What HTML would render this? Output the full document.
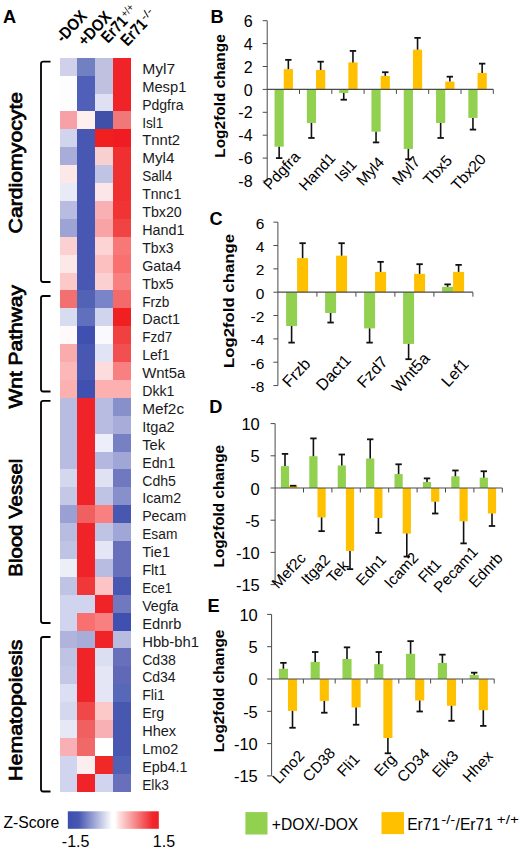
<!DOCTYPE html>
<html><head><meta charset="utf-8"><title>Figure</title>
<style>
html,body{margin:0;padding:0;background:#fff;}
body{width:520px;height:853px;overflow:hidden;font-family:"Liberation Sans", sans-serif;}
svg{display:block;}
</style></head>
<body>
<svg width="520" height="853" viewBox="0 0 520 853">
<rect x="0" y="0" width="520" height="853" fill="#fff"/>
<g shape-rendering="crispEdges">
<rect x="59.60" y="57.70" width="17.90" height="18.20" fill="#d0d0ea"/>
<rect x="77.20" y="57.70" width="18.40" height="18.20" fill="#7080c0"/>
<rect x="95.30" y="57.70" width="18.30" height="18.20" fill="#c0c0e0"/>
<rect x="113.30" y="57.70" width="18.00" height="18.20" fill="#f02328"/>
<rect x="59.60" y="75.60" width="17.90" height="18.20" fill="#fdfdfd"/>
<rect x="77.20" y="75.60" width="18.40" height="18.20" fill="#5060b8"/>
<rect x="95.30" y="75.60" width="18.30" height="18.20" fill="#c0c0e0"/>
<rect x="113.30" y="75.60" width="18.00" height="18.20" fill="#f02328"/>
<rect x="59.60" y="93.50" width="17.90" height="18.20" fill="#fdfdfd"/>
<rect x="77.20" y="93.50" width="18.40" height="18.20" fill="#5060b8"/>
<rect x="95.30" y="93.50" width="18.30" height="18.20" fill="#e0e0f4"/>
<rect x="113.30" y="93.50" width="18.00" height="18.20" fill="#f02328"/>
<rect x="59.60" y="111.40" width="17.90" height="18.20" fill="#f8a0a8"/>
<rect x="77.20" y="111.40" width="18.40" height="18.20" fill="#fff0f0"/>
<rect x="95.30" y="111.40" width="18.30" height="18.20" fill="#4050a8"/>
<rect x="113.30" y="111.40" width="18.00" height="18.20" fill="#f07878"/>
<rect x="59.60" y="129.30" width="17.90" height="18.20" fill="#d0d4ec"/>
<rect x="77.20" y="129.30" width="18.40" height="18.20" fill="#4858b2"/>
<rect x="95.30" y="129.30" width="18.30" height="18.20" fill="#f02020"/>
<rect x="113.30" y="129.30" width="18.00" height="18.20" fill="#f01c24"/>
<rect x="59.60" y="147.20" width="17.90" height="18.20" fill="#a8acd8"/>
<rect x="77.20" y="147.20" width="18.40" height="18.20" fill="#4858b2"/>
<rect x="95.30" y="147.20" width="18.30" height="18.20" fill="#f8d0d0"/>
<rect x="113.30" y="147.20" width="18.00" height="18.20" fill="#f03030"/>
<rect x="59.60" y="165.10" width="17.90" height="18.20" fill="#fde8e8"/>
<rect x="77.20" y="165.10" width="18.40" height="18.20" fill="#4858b2"/>
<rect x="95.30" y="165.10" width="18.30" height="18.20" fill="#c0c4e4"/>
<rect x="113.30" y="165.10" width="18.00" height="18.20" fill="#f03030"/>
<rect x="59.60" y="183.00" width="17.90" height="18.20" fill="#e8eaf6"/>
<rect x="77.20" y="183.00" width="18.40" height="18.20" fill="#4858b2"/>
<rect x="95.30" y="183.00" width="18.30" height="18.20" fill="#fbe6ea"/>
<rect x="113.30" y="183.00" width="18.00" height="18.20" fill="#f03030"/>
<rect x="59.60" y="200.90" width="17.90" height="18.20" fill="#b8bce0"/>
<rect x="77.20" y="200.90" width="18.40" height="18.20" fill="#4858b2"/>
<rect x="95.30" y="200.90" width="18.30" height="18.20" fill="#f8b0b4"/>
<rect x="113.30" y="200.90" width="18.00" height="18.20" fill="#f03434"/>
<rect x="59.60" y="218.80" width="17.90" height="18.20" fill="#9ca4d4"/>
<rect x="77.20" y="218.80" width="18.40" height="18.20" fill="#4858b2"/>
<rect x="95.30" y="218.80" width="18.30" height="18.20" fill="#f8a4a6"/>
<rect x="113.30" y="218.80" width="18.00" height="18.20" fill="#f04444"/>
<rect x="59.60" y="236.70" width="17.90" height="18.20" fill="#fcd0d0"/>
<rect x="77.20" y="236.70" width="18.40" height="18.20" fill="#4858b2"/>
<rect x="95.30" y="236.70" width="18.30" height="18.20" fill="#fcd4d4"/>
<rect x="113.30" y="236.70" width="18.00" height="18.20" fill="#f87878"/>
<rect x="59.60" y="254.60" width="17.90" height="18.20" fill="#fde8e8"/>
<rect x="77.20" y="254.60" width="18.40" height="18.20" fill="#4858b2"/>
<rect x="95.30" y="254.60" width="18.30" height="18.20" fill="#fcc0c0"/>
<rect x="113.30" y="254.60" width="18.00" height="18.20" fill="#f87070"/>
<rect x="59.60" y="272.50" width="17.90" height="18.20" fill="#fcc8c8"/>
<rect x="77.20" y="272.50" width="18.40" height="18.20" fill="#4858b2"/>
<rect x="95.30" y="272.50" width="18.30" height="18.20" fill="#fcd0d0"/>
<rect x="113.30" y="272.50" width="18.00" height="18.20" fill="#f88080"/>
<rect x="59.60" y="290.40" width="17.90" height="18.20" fill="#f27070"/>
<rect x="77.20" y="290.40" width="18.40" height="18.20" fill="#5262b4"/>
<rect x="95.30" y="290.40" width="18.30" height="18.20" fill="#7a84c8"/>
<rect x="113.30" y="290.40" width="18.00" height="18.20" fill="#f46a6a"/>
<rect x="59.60" y="308.30" width="17.90" height="18.20" fill="#d8dcf0"/>
<rect x="77.20" y="308.30" width="18.40" height="18.20" fill="#6070bc"/>
<rect x="95.30" y="308.30" width="18.30" height="18.20" fill="#d0d4ec"/>
<rect x="113.30" y="308.30" width="18.00" height="18.20" fill="#f02020"/>
<rect x="59.60" y="326.20" width="17.90" height="18.20" fill="#fefafa"/>
<rect x="77.20" y="326.20" width="18.40" height="18.20" fill="#4050b0"/>
<rect x="95.30" y="326.20" width="18.30" height="18.20" fill="#fafafe"/>
<rect x="113.30" y="326.20" width="18.00" height="18.20" fill="#f04040"/>
<rect x="59.60" y="344.10" width="17.90" height="18.20" fill="#faacac"/>
<rect x="77.20" y="344.10" width="18.40" height="18.20" fill="#4858b2"/>
<rect x="95.30" y="344.10" width="18.30" height="18.20" fill="#e0e4f4"/>
<rect x="113.30" y="344.10" width="18.00" height="18.20" fill="#f25050"/>
<rect x="59.60" y="362.00" width="17.90" height="18.20" fill="#fcb8b8"/>
<rect x="77.20" y="362.00" width="18.40" height="18.20" fill="#4858b2"/>
<rect x="95.30" y="362.00" width="18.30" height="18.20" fill="#fcdcdc"/>
<rect x="113.30" y="362.00" width="18.00" height="18.20" fill="#f88080"/>
<rect x="59.60" y="379.90" width="17.90" height="18.20" fill="#fcb0b0"/>
<rect x="77.20" y="379.90" width="18.40" height="18.20" fill="#4050b0"/>
<rect x="95.30" y="379.90" width="18.30" height="18.20" fill="#fcb0b0"/>
<rect x="113.30" y="379.90" width="18.00" height="18.20" fill="#fcb0b0"/>
<rect x="59.60" y="397.80" width="17.90" height="18.20" fill="#b8bce0"/>
<rect x="77.20" y="397.80" width="18.40" height="18.20" fill="#f02328"/>
<rect x="95.30" y="397.80" width="18.30" height="18.20" fill="#b8bce0"/>
<rect x="113.30" y="397.80" width="18.00" height="18.20" fill="#8890cc"/>
<rect x="59.60" y="415.70" width="17.90" height="18.20" fill="#b8bce0"/>
<rect x="77.20" y="415.70" width="18.40" height="18.20" fill="#f02328"/>
<rect x="95.30" y="415.70" width="18.30" height="18.20" fill="#b8bce0"/>
<rect x="113.30" y="415.70" width="18.00" height="18.20" fill="#a8acd8"/>
<rect x="59.60" y="433.60" width="17.90" height="18.20" fill="#b8bce0"/>
<rect x="77.20" y="433.60" width="18.40" height="18.20" fill="#f02328"/>
<rect x="95.30" y="433.60" width="18.30" height="18.20" fill="#eceefa"/>
<rect x="113.30" y="433.60" width="18.00" height="18.20" fill="#7880c4"/>
<rect x="59.60" y="451.50" width="17.90" height="18.20" fill="#b8bce0"/>
<rect x="77.20" y="451.50" width="18.40" height="18.20" fill="#f02328"/>
<rect x="95.30" y="451.50" width="18.30" height="18.20" fill="#b4b8e0"/>
<rect x="113.30" y="451.50" width="18.00" height="18.20" fill="#a0a6d6"/>
<rect x="59.60" y="469.40" width="17.90" height="18.20" fill="#d4d8ee"/>
<rect x="77.20" y="469.40" width="18.40" height="18.20" fill="#f02328"/>
<rect x="95.30" y="469.40" width="18.30" height="18.20" fill="#e0e2f4"/>
<rect x="113.30" y="469.40" width="18.00" height="18.20" fill="#7078c0"/>
<rect x="59.60" y="487.30" width="17.90" height="18.20" fill="#c4c8e6"/>
<rect x="77.20" y="487.30" width="18.40" height="18.20" fill="#f02328"/>
<rect x="95.30" y="487.30" width="18.30" height="18.20" fill="#c0c4e4"/>
<rect x="113.30" y="487.30" width="18.00" height="18.20" fill="#8890cc"/>
<rect x="59.60" y="505.20" width="17.90" height="18.20" fill="#9aa0d4"/>
<rect x="77.20" y="505.20" width="18.40" height="18.20" fill="#f06060"/>
<rect x="95.30" y="505.20" width="18.30" height="18.20" fill="#f88080"/>
<rect x="113.30" y="505.20" width="18.00" height="18.20" fill="#4858b0"/>
<rect x="59.60" y="523.10" width="17.90" height="18.20" fill="#b8bce0"/>
<rect x="77.20" y="523.10" width="18.40" height="18.20" fill="#f02328"/>
<rect x="95.30" y="523.10" width="18.30" height="18.20" fill="#c0c4e4"/>
<rect x="113.30" y="523.10" width="18.00" height="18.20" fill="#a0a6d6"/>
<rect x="59.60" y="541.00" width="17.90" height="18.20" fill="#c0c4e4"/>
<rect x="77.20" y="541.00" width="18.40" height="18.20" fill="#f02328"/>
<rect x="95.30" y="541.00" width="18.30" height="18.20" fill="#e4e6f6"/>
<rect x="113.30" y="541.00" width="18.00" height="18.20" fill="#6870bc"/>
<rect x="59.60" y="558.90" width="17.90" height="18.20" fill="#eceef8"/>
<rect x="77.20" y="558.90" width="18.40" height="18.20" fill="#f02328"/>
<rect x="95.30" y="558.90" width="18.30" height="18.20" fill="#b8bce0"/>
<rect x="113.30" y="558.90" width="18.00" height="18.20" fill="#6870bc"/>
<rect x="59.60" y="576.80" width="17.90" height="18.20" fill="#c0c4e4"/>
<rect x="77.20" y="576.80" width="18.40" height="18.20" fill="#f03838"/>
<rect x="95.30" y="576.80" width="18.30" height="18.20" fill="#fcc4c4"/>
<rect x="113.30" y="576.80" width="18.00" height="18.20" fill="#4858b0"/>
<rect x="59.60" y="594.70" width="17.90" height="18.20" fill="#d0d4ee"/>
<rect x="77.20" y="594.70" width="18.40" height="18.20" fill="#d0d4ee"/>
<rect x="95.30" y="594.70" width="18.30" height="18.20" fill="#f02328"/>
<rect x="113.30" y="594.70" width="18.00" height="18.20" fill="#7078c0"/>
<rect x="59.60" y="612.60" width="17.90" height="18.20" fill="#d0d4ee"/>
<rect x="77.20" y="612.60" width="18.40" height="18.20" fill="#f87070"/>
<rect x="95.30" y="612.60" width="18.30" height="18.20" fill="#f88080"/>
<rect x="113.30" y="612.60" width="18.00" height="18.20" fill="#4050b0"/>
<rect x="59.60" y="630.50" width="17.90" height="18.20" fill="#b0b4dc"/>
<rect x="77.20" y="630.50" width="18.40" height="18.20" fill="#a8acd8"/>
<rect x="95.30" y="630.50" width="18.30" height="18.20" fill="#f02328"/>
<rect x="113.30" y="630.50" width="18.00" height="18.20" fill="#b8bce0"/>
<rect x="59.60" y="648.40" width="17.90" height="18.20" fill="#c0c4e4"/>
<rect x="77.20" y="648.40" width="18.40" height="18.20" fill="#f02328"/>
<rect x="95.30" y="648.40" width="18.30" height="18.20" fill="#dcdef2"/>
<rect x="113.30" y="648.40" width="18.00" height="18.20" fill="#6870bc"/>
<rect x="59.60" y="666.30" width="17.90" height="18.20" fill="#c4c8e6"/>
<rect x="77.20" y="666.30" width="18.40" height="18.20" fill="#f02328"/>
<rect x="95.30" y="666.30" width="18.30" height="18.20" fill="#e4e6f6"/>
<rect x="113.30" y="666.30" width="18.00" height="18.20" fill="#6068b8"/>
<rect x="59.60" y="684.20" width="17.90" height="18.20" fill="#dcdef4"/>
<rect x="77.20" y="684.20" width="18.40" height="18.20" fill="#f02328"/>
<rect x="95.30" y="684.20" width="18.30" height="18.20" fill="#e4e6f6"/>
<rect x="113.30" y="684.20" width="18.00" height="18.20" fill="#5868b8"/>
<rect x="59.60" y="702.10" width="17.90" height="18.20" fill="#d4d8ee"/>
<rect x="77.20" y="702.10" width="18.40" height="18.20" fill="#f04848"/>
<rect x="95.30" y="702.10" width="18.30" height="18.20" fill="#fcc8c8"/>
<rect x="113.30" y="702.10" width="18.00" height="18.20" fill="#4858b0"/>
<rect x="59.60" y="720.00" width="17.90" height="18.20" fill="#e6e8f6"/>
<rect x="77.20" y="720.00" width="18.40" height="18.20" fill="#f06060"/>
<rect x="95.30" y="720.00" width="18.30" height="18.20" fill="#f8b0b4"/>
<rect x="113.30" y="720.00" width="18.00" height="18.20" fill="#4858b0"/>
<rect x="59.60" y="737.90" width="17.90" height="18.20" fill="#f8b0b4"/>
<rect x="77.20" y="737.90" width="18.40" height="18.20" fill="#f06868"/>
<rect x="95.30" y="737.90" width="18.30" height="18.20" fill="#ffffff"/>
<rect x="113.30" y="737.90" width="18.00" height="18.20" fill="#4858b0"/>
<rect x="59.60" y="755.80" width="17.90" height="18.20" fill="#d0d4ee"/>
<rect x="77.20" y="755.80" width="18.40" height="18.20" fill="#fceeee"/>
<rect x="95.30" y="755.80" width="18.30" height="18.20" fill="#f02828"/>
<rect x="113.30" y="755.80" width="18.00" height="18.20" fill="#5060b4"/>
<rect x="59.60" y="773.70" width="17.90" height="18.20" fill="#d0d4ee"/>
<rect x="77.20" y="773.70" width="18.40" height="18.20" fill="#f02328"/>
<rect x="95.30" y="773.70" width="18.30" height="18.20" fill="#d0d4ee"/>
<rect x="113.30" y="773.70" width="18.00" height="18.20" fill="#6870bc"/>
</g>
<g font-family='"Liberation Sans", sans-serif' font-size="14.0" fill="#1a1a1a">
<text id="g0" x="142.2" y="73.85" textLength="33.06" lengthAdjust="spacingAndGlyphs">Myl7</text>
<text id="g1" x="142.2" y="91.75" textLength="44.13" lengthAdjust="spacingAndGlyphs">Mesp1</text>
<text id="g2" x="142.2" y="109.65" textLength="41.25" lengthAdjust="spacingAndGlyphs">Pdgfra</text>
<text id="g3" x="142.2" y="127.55" textLength="21.3" lengthAdjust="spacingAndGlyphs">Isl1</text>
<text id="g4" x="142.2" y="145.45" textLength="37.91" lengthAdjust="spacingAndGlyphs">Tnnt2</text>
<text id="g5" x="142.2" y="163.35" textLength="32.36" lengthAdjust="spacingAndGlyphs">Myl4</text>
<text id="g6" x="142.2" y="181.25" textLength="30.24" lengthAdjust="spacingAndGlyphs">Sall4</text>
<text id="g7" x="142.2" y="199.15" textLength="39.02" lengthAdjust="spacingAndGlyphs">Tnnc1</text>
<text id="g8" x="142.2" y="217.05" textLength="39.62" lengthAdjust="spacingAndGlyphs">Tbx20</text>
<text id="g9" x="142.2" y="234.95" textLength="42.27" lengthAdjust="spacingAndGlyphs">Hand1</text>
<text id="g10" x="142.2" y="252.85" textLength="31.33" lengthAdjust="spacingAndGlyphs">Tbx3</text>
<text id="g11" x="142.2" y="270.75" textLength="38.94" lengthAdjust="spacingAndGlyphs">Gata4</text>
<text id="g12" x="142.2" y="288.65" textLength="31.33" lengthAdjust="spacingAndGlyphs">Tbx5</text>
<text id="g13" x="142.2" y="306.55" textLength="27.2" lengthAdjust="spacingAndGlyphs">Frzb</text>
<text id="g14" x="142.2" y="324.45" textLength="37.88" lengthAdjust="spacingAndGlyphs">Dact1</text>
<text id="g15" x="142.2" y="342.35" textLength="30.03" lengthAdjust="spacingAndGlyphs">Fzd7</text>
<text id="g16" x="142.2" y="360.25" textLength="27.45" lengthAdjust="spacingAndGlyphs">Lef1</text>
<text id="g17" x="142.2" y="378.15" textLength="43.17" lengthAdjust="spacingAndGlyphs">Wnt5a</text>
<text id="g18" x="142.2" y="396.05" textLength="32.21" lengthAdjust="spacingAndGlyphs">Dkk1</text>
<text id="g19" x="142.2" y="413.95" textLength="41.93" lengthAdjust="spacingAndGlyphs">Mef2c</text>
<text id="g20" x="142.2" y="431.85" textLength="32.44" lengthAdjust="spacingAndGlyphs">Itga2</text>
<text id="g21" x="142.2" y="449.75" textLength="22.8" lengthAdjust="spacingAndGlyphs">Tek</text>
<text id="g22" x="142.2" y="467.65" textLength="33.2" lengthAdjust="spacingAndGlyphs">Edn1</text>
<text id="g23" x="142.2" y="485.55" textLength="33.77" lengthAdjust="spacingAndGlyphs">Cdh5</text>
<text id="g24" x="142.2" y="503.45" textLength="38.93" lengthAdjust="spacingAndGlyphs">Icam2</text>
<text id="g25" x="142.2" y="521.35" textLength="43.98" lengthAdjust="spacingAndGlyphs">Pecam</text>
<text id="g26" x="142.2" y="539.25" textLength="35.2" lengthAdjust="spacingAndGlyphs">Esam</text>
<text id="g27" x="142.2" y="557.15" textLength="27.92" lengthAdjust="spacingAndGlyphs">Tie1</text>
<text id="g28" x="142.2" y="575.05" textLength="24.34" lengthAdjust="spacingAndGlyphs">Flt1</text>
<text id="g29" x="142.2" y="592.95" textLength="30.02" lengthAdjust="spacingAndGlyphs">Ece1</text>
<text id="g30" x="142.2" y="610.85" textLength="36.33" lengthAdjust="spacingAndGlyphs">Vegfa</text>
<text id="g31" x="142.2" y="628.75" textLength="39.16" lengthAdjust="spacingAndGlyphs">Ednrb</text>
<text id="g32" x="142.2" y="646.65" textLength="56.8" lengthAdjust="spacingAndGlyphs">Hbb-bh1</text>
<text id="g33" x="142.2" y="664.55" textLength="33.67" lengthAdjust="spacingAndGlyphs">Cd38</text>
<text id="g34" x="142.2" y="682.45" textLength="33.47" lengthAdjust="spacingAndGlyphs">Cd34</text>
<text id="g35" x="142.2" y="700.35" textLength="22.76" lengthAdjust="spacingAndGlyphs">Fli1</text>
<text id="g36" x="142.2" y="718.25" textLength="22.0" lengthAdjust="spacingAndGlyphs">Erg</text>
<text id="g37" x="142.2" y="736.15" textLength="33.89" lengthAdjust="spacingAndGlyphs">Hhex</text>
<text id="g38" x="142.2" y="754.05" textLength="36.13" lengthAdjust="spacingAndGlyphs">Lmo2</text>
<text id="g39" x="142.2" y="771.95" textLength="45.38" lengthAdjust="spacingAndGlyphs">Epb4.1</text>
<text id="g40" x="142.2" y="789.85" textLength="26.73" lengthAdjust="spacingAndGlyphs">Elk3</text>
</g>
<rect x="186.6" y="510.70" width="0.7" height="7" fill="#dadada"/>
<g id="h0" transform="translate(63.0,43.5) rotate(-47)">
<text x="0" y="0" textLength="36.5" lengthAdjust="spacingAndGlyphs" font-family='"Liberation Sans", sans-serif' font-weight="bold" font-size="16.5" fill="#000">-DOX</text>
</g>
<g id="h1" transform="translate(85.0,47.0) rotate(-47)">
<text x="0" y="0" textLength="40.0" lengthAdjust="spacingAndGlyphs" font-family='"Liberation Sans", sans-serif' font-weight="bold" font-size="16.5" fill="#000">+DOX</text>
</g>
<g id="h2" transform="translate(108.0,44.0) rotate(-47)">
<text x="0" y="0" textLength="30.0" lengthAdjust="spacingAndGlyphs" font-family='"Liberation Sans", sans-serif' font-weight="bold" font-size="16.5" fill="#000">Er71</text>
<text x="30.8" y="-5.2" textLength="13.5" lengthAdjust="spacingAndGlyphs" font-family='"Liberation Sans", sans-serif' font-size="11" fill="#000">+/+</text>
</g>
<g id="h3" transform="translate(127.5,47.0) rotate(-47)">
<text x="0" y="0" textLength="30.0" lengthAdjust="spacingAndGlyphs" font-family='"Liberation Sans", sans-serif' font-weight="bold" font-size="16.5" fill="#000">Er71</text>
<text x="30.8" y="-5.2" textLength="12.5" lengthAdjust="spacingAndGlyphs" font-family='"Liberation Sans", sans-serif' font-size="11" fill="#000">-/-</text>
</g>
<path d="M50.5 61.7 H43.2 Q41.0 61.7 41.0 63.900000000000006 V279.8 Q41.0 282.0 43.2 282.0 H50.5" fill="none" stroke="#000" stroke-width="1.8"/>
<path d="M50.5 296.0 H43.2 Q41.0 296.0 41.0 298.2 V389.3 Q41.0 391.5 43.2 391.5 H50.5" fill="none" stroke="#000" stroke-width="1.8"/>
<path d="M50.5 400.8 H43.2 Q41.0 400.8 41.0 403.0 V620.8 Q41.0 623.0 43.2 623.0 H50.5" fill="none" stroke="#000" stroke-width="1.8"/>
<path d="M50.5 637.0 H43.2 Q41.0 637.0 41.0 639.2 V789.3 Q41.0 791.5 43.2 791.5 H50.5" fill="none" stroke="#000" stroke-width="1.8"/>
<text id="cat0" x="0" y="0" transform="translate(22.2,162.65) rotate(-90)" text-anchor="middle" textLength="141.5" lengthAdjust="spacingAndGlyphs" font-family='"Liberation Sans", sans-serif' font-weight="normal" font-size="19.2" fill="#000" stroke="#000" stroke-width="0.75">Cardiomyocyte</text>
<text id="cat1" x="0" y="0" transform="translate(22.2,346.8) rotate(-90)" text-anchor="middle" textLength="123.5" lengthAdjust="spacingAndGlyphs" font-family='"Liberation Sans", sans-serif' font-weight="normal" font-size="19.2" fill="#000" stroke="#000" stroke-width="0.75">Wnt Pathway</text>
<text id="cat2" x="0" y="0" transform="translate(22.2,517.75) rotate(-90)" text-anchor="middle" textLength="118" lengthAdjust="spacingAndGlyphs" font-family='"Liberation Sans", sans-serif' font-weight="normal" font-size="19.2" fill="#000" stroke="#000" stroke-width="0.75">Blood Vessel</text>
<text id="cat3" x="0" y="0" transform="translate(22.2,710.2) rotate(-90)" text-anchor="middle" textLength="141.5" lengthAdjust="spacingAndGlyphs" font-family='"Liberation Sans", sans-serif' font-weight="normal" font-size="19.2" fill="#000" stroke="#000" stroke-width="0.75">Hematopoiesis</text>
<text id="AL" x="3.0" y="22.8" font-family='"Liberation Sans", sans-serif' font-weight="bold" font-size="18.2" fill="#000">A</text>
<defs><linearGradient id="zg" x1="0" x2="1" y1="0" y2="0"><stop offset="0" stop-color="#3c4eac"/><stop offset="0.12" stop-color="#4858b2"/><stop offset="0.485" stop-color="#ffffff"/><stop offset="0.52" stop-color="#ffffff"/><stop offset="0.56" stop-color="#fde2e2"/><stop offset="0.93" stop-color="#f0282c"/><stop offset="1" stop-color="#f01e24"/></linearGradient></defs>
<rect x="67.8" y="811.3" width="91" height="17.5" fill="url(#zg)"/>
<text x="3.5" y="828" font-family='"Liberation Sans", sans-serif' font-size="15.7" fill="#000">Z-Score</text>
<text x="61.8" y="847.3" font-family='"Liberation Sans", sans-serif' font-size="16" fill="#000">-1.5</text>
<text x="152.8" y="847.3" font-family='"Liberation Sans", sans-serif' font-size="16" fill="#000">1.5</text>
<line x1="267.2" y1="20.70" x2="267.2" y2="181.00" stroke="#4a4a4a" stroke-width="1"/>
<line x1="262.7" y1="181.00" x2="267.2" y2="181.00" stroke="#4a4a4a" stroke-width="1"/>
<text x="252.6" y="187.10" text-anchor="end" font-family='"Liberation Sans", sans-serif' font-size="16" fill="#000">-8</text>
<line x1="262.7" y1="158.10" x2="267.2" y2="158.10" stroke="#4a4a4a" stroke-width="1"/>
<text x="252.6" y="164.20" text-anchor="end" font-family='"Liberation Sans", sans-serif' font-size="16" fill="#000">-6</text>
<line x1="262.7" y1="135.20" x2="267.2" y2="135.20" stroke="#4a4a4a" stroke-width="1"/>
<text x="252.6" y="141.30" text-anchor="end" font-family='"Liberation Sans", sans-serif' font-size="16" fill="#000">-4</text>
<line x1="262.7" y1="112.30" x2="267.2" y2="112.30" stroke="#4a4a4a" stroke-width="1"/>
<text x="252.6" y="118.40" text-anchor="end" font-family='"Liberation Sans", sans-serif' font-size="16" fill="#000">-2</text>
<line x1="262.7" y1="89.40" x2="267.2" y2="89.40" stroke="#4a4a4a" stroke-width="1"/>
<text x="252.6" y="95.50" text-anchor="end" font-family='"Liberation Sans", sans-serif' font-size="16" fill="#000">0</text>
<line x1="262.7" y1="66.50" x2="267.2" y2="66.50" stroke="#4a4a4a" stroke-width="1"/>
<text x="252.6" y="72.60" text-anchor="end" font-family='"Liberation Sans", sans-serif' font-size="16" fill="#000">2</text>
<line x1="262.7" y1="43.60" x2="267.2" y2="43.60" stroke="#4a4a4a" stroke-width="1"/>
<text x="252.6" y="49.70" text-anchor="end" font-family='"Liberation Sans", sans-serif' font-size="16" fill="#000">4</text>
<line x1="262.7" y1="20.70" x2="267.2" y2="20.70" stroke="#4a4a4a" stroke-width="1"/>
<text x="252.6" y="26.80" text-anchor="end" font-family='"Liberation Sans", sans-serif' font-size="16" fill="#000">6</text>
<rect x="274.55" y="89.40" width="9.20" height="57.25" fill="#92d050"/>
<rect x="283.75" y="69.13" width="9.20" height="20.27" fill="#ffc000"/>
<line x1="279.15" y1="146.65" x2="279.15" y2="158.10" stroke="#111" stroke-width="1.6"/>
<line x1="275.95" y1="158.10" x2="282.35" y2="158.10" stroke="#111" stroke-width="1.8"/>
<line x1="288.35" y1="69.13" x2="288.35" y2="59.86" stroke="#111" stroke-width="1.6"/>
<line x1="285.15" y1="59.86" x2="291.55" y2="59.86" stroke="#111" stroke-width="1.8"/>
<rect x="306.85" y="89.40" width="9.20" height="33.55" fill="#92d050"/>
<rect x="316.05" y="69.94" width="9.20" height="19.47" fill="#ffc000"/>
<line x1="311.45" y1="122.95" x2="311.45" y2="137.95" stroke="#111" stroke-width="1.6"/>
<line x1="308.25" y1="137.95" x2="314.65" y2="137.95" stroke="#111" stroke-width="1.8"/>
<line x1="320.65" y1="69.94" x2="320.65" y2="61.69" stroke="#111" stroke-width="1.6"/>
<line x1="317.45" y1="61.69" x2="323.85" y2="61.69" stroke="#111" stroke-width="1.8"/>
<rect x="339.15" y="89.40" width="9.20" height="3.55" fill="#92d050"/>
<rect x="348.35" y="62.38" width="9.20" height="27.02" fill="#ffc000"/>
<line x1="343.75" y1="92.95" x2="343.75" y2="99.71" stroke="#111" stroke-width="1.6"/>
<line x1="340.55" y1="99.71" x2="346.95" y2="99.71" stroke="#111" stroke-width="1.8"/>
<line x1="352.95" y1="62.38" x2="352.95" y2="50.93" stroke="#111" stroke-width="1.6"/>
<line x1="349.75" y1="50.93" x2="356.15" y2="50.93" stroke="#111" stroke-width="1.8"/>
<rect x="371.45" y="89.40" width="9.20" height="42.25" fill="#92d050"/>
<rect x="380.65" y="75.89" width="9.20" height="13.51" fill="#ffc000"/>
<line x1="376.05" y1="131.65" x2="376.05" y2="142.41" stroke="#111" stroke-width="1.6"/>
<line x1="372.85" y1="142.41" x2="379.25" y2="142.41" stroke="#111" stroke-width="1.8"/>
<line x1="385.25" y1="75.89" x2="385.25" y2="72.23" stroke="#111" stroke-width="1.6"/>
<line x1="382.05" y1="72.23" x2="388.45" y2="72.23" stroke="#111" stroke-width="1.8"/>
<rect x="403.75" y="89.40" width="9.20" height="59.54" fill="#92d050"/>
<rect x="412.95" y="49.67" width="9.20" height="39.73" fill="#ffc000"/>
<line x1="408.35" y1="148.94" x2="408.35" y2="159.25" stroke="#111" stroke-width="1.6"/>
<line x1="405.15" y1="159.25" x2="411.55" y2="159.25" stroke="#111" stroke-width="1.8"/>
<line x1="417.55" y1="49.67" x2="417.55" y2="37.88" stroke="#111" stroke-width="1.6"/>
<line x1="414.35" y1="37.88" x2="420.75" y2="37.88" stroke="#111" stroke-width="1.8"/>
<rect x="436.05" y="89.40" width="9.20" height="33.55" fill="#92d050"/>
<rect x="445.25" y="81.61" width="9.20" height="7.79" fill="#ffc000"/>
<line x1="440.65" y1="122.95" x2="440.65" y2="137.95" stroke="#111" stroke-width="1.6"/>
<line x1="437.45" y1="137.95" x2="443.85" y2="137.95" stroke="#111" stroke-width="1.8"/>
<line x1="449.85" y1="81.61" x2="449.85" y2="76.69" stroke="#111" stroke-width="1.6"/>
<line x1="446.65" y1="76.69" x2="453.05" y2="76.69" stroke="#111" stroke-width="1.8"/>
<rect x="468.35" y="89.40" width="9.20" height="28.51" fill="#92d050"/>
<rect x="477.55" y="72.91" width="9.20" height="16.49" fill="#ffc000"/>
<line x1="472.95" y1="117.91" x2="472.95" y2="129.59" stroke="#111" stroke-width="1.6"/>
<line x1="469.75" y1="129.59" x2="476.15" y2="129.59" stroke="#111" stroke-width="1.8"/>
<line x1="482.15" y1="72.91" x2="482.15" y2="63.64" stroke="#111" stroke-width="1.6"/>
<line x1="478.95" y1="63.64" x2="485.35" y2="63.64" stroke="#111" stroke-width="1.8"/>
<line x1="267.2" y1="89.40" x2="493.30" y2="89.40" stroke="#4a4a4a" stroke-width="1.2"/>
<line x1="299.50" y1="89.40" x2="299.50" y2="93.90" stroke="#4a4a4a" stroke-width="1"/>
<line x1="331.80" y1="89.40" x2="331.80" y2="93.90" stroke="#4a4a4a" stroke-width="1"/>
<line x1="364.10" y1="89.40" x2="364.10" y2="93.90" stroke="#4a4a4a" stroke-width="1"/>
<line x1="396.40" y1="89.40" x2="396.40" y2="93.90" stroke="#4a4a4a" stroke-width="1"/>
<line x1="428.70" y1="89.40" x2="428.70" y2="93.90" stroke="#4a4a4a" stroke-width="1"/>
<line x1="461.00" y1="89.40" x2="461.00" y2="93.90" stroke="#4a4a4a" stroke-width="1"/>
<line x1="493.30" y1="89.40" x2="493.30" y2="93.90" stroke="#4a4a4a" stroke-width="1"/>
<text id="Bl0" x="0" y="0" transform="translate(281.50,170.40) rotate(-47)" text-anchor="middle" dominant-baseline="central" font-family='"Liberation Sans", sans-serif' font-size="15.4" fill="#000">Pdgfra</text>
<text id="Bl1" x="0" y="0" transform="translate(316.90,171.50) rotate(-47)" text-anchor="middle" dominant-baseline="central" font-family='"Liberation Sans", sans-serif' font-size="15.4" fill="#000">Hand1</text>
<text id="Bl2" x="0" y="0" transform="translate(345.50,170.20) rotate(-47)" text-anchor="middle" dominant-baseline="central" font-family='"Liberation Sans", sans-serif' font-size="15.4" fill="#000">Isl1</text>
<text id="Bl3" x="0" y="0" transform="translate(370.00,171.00) rotate(-47)" text-anchor="middle" dominant-baseline="central" font-family='"Liberation Sans", sans-serif' font-size="15.4" fill="#000">Myl4</text>
<text id="Bl4" x="0" y="0" transform="translate(405.90,170.60) rotate(-47)" text-anchor="middle" dominant-baseline="central" font-family='"Liberation Sans", sans-serif' font-size="15.4" fill="#000">Myl7</text>
<text id="Bl5" x="0" y="0" transform="translate(437.50,170.00) rotate(-47)" text-anchor="middle" dominant-baseline="central" font-family='"Liberation Sans", sans-serif' font-size="15.4" fill="#000">Tbx5</text>
<text id="Bl6" x="0" y="0" transform="translate(468.20,172.00) rotate(-47)" text-anchor="middle" dominant-baseline="central" font-family='"Liberation Sans", sans-serif' font-size="15.4" fill="#000">Tbx20</text>
<text id="Byt" x="0" y="0" transform="translate(224.6,96.0) rotate(-90)" text-anchor="middle" textLength="123.5" lengthAdjust="spacingAndGlyphs" font-family='"Liberation Sans", sans-serif' font-weight="bold" font-size="15" fill="#000">Log2fold change</text>
<text id="BL" x="210.5" y="22.9" font-family='"Liberation Sans", sans-serif' font-weight="bold" font-size="18.2" fill="#000">B</text>
<line x1="277.9" y1="222.18" x2="277.9" y2="385.56" stroke="#4a4a4a" stroke-width="1"/>
<line x1="273.4" y1="385.56" x2="277.9" y2="385.56" stroke="#4a4a4a" stroke-width="1"/>
<text x="264.3" y="391.96" text-anchor="end" font-family='"Liberation Sans", sans-serif' font-size="15.5" fill="#000">-8</text>
<line x1="273.4" y1="362.22" x2="277.9" y2="362.22" stroke="#4a4a4a" stroke-width="1"/>
<text x="264.3" y="368.62" text-anchor="end" font-family='"Liberation Sans", sans-serif' font-size="15.5" fill="#000">-6</text>
<line x1="273.4" y1="338.88" x2="277.9" y2="338.88" stroke="#4a4a4a" stroke-width="1"/>
<text x="264.3" y="345.28" text-anchor="end" font-family='"Liberation Sans", sans-serif' font-size="15.5" fill="#000">-4</text>
<line x1="273.4" y1="315.54" x2="277.9" y2="315.54" stroke="#4a4a4a" stroke-width="1"/>
<text x="264.3" y="321.94" text-anchor="end" font-family='"Liberation Sans", sans-serif' font-size="15.5" fill="#000">-2</text>
<line x1="273.4" y1="292.20" x2="277.9" y2="292.20" stroke="#4a4a4a" stroke-width="1"/>
<text x="264.3" y="298.60" text-anchor="end" font-family='"Liberation Sans", sans-serif' font-size="15.5" fill="#000">0</text>
<line x1="273.4" y1="268.86" x2="277.9" y2="268.86" stroke="#4a4a4a" stroke-width="1"/>
<text x="264.3" y="275.26" text-anchor="end" font-family='"Liberation Sans", sans-serif' font-size="15.5" fill="#000">2</text>
<line x1="273.4" y1="245.52" x2="277.9" y2="245.52" stroke="#4a4a4a" stroke-width="1"/>
<text x="264.3" y="251.92" text-anchor="end" font-family='"Liberation Sans", sans-serif' font-size="15.5" fill="#000">4</text>
<line x1="273.4" y1="222.18" x2="277.9" y2="222.18" stroke="#4a4a4a" stroke-width="1"/>
<text x="264.3" y="228.58" text-anchor="end" font-family='"Liberation Sans", sans-serif' font-size="15.5" fill="#000">6</text>
<rect x="286.10" y="292.20" width="11.00" height="33.84" fill="#92d050"/>
<rect x="297.10" y="258.12" width="11.00" height="34.08" fill="#ffc000"/>
<line x1="291.60" y1="326.04" x2="291.60" y2="342.61" stroke="#111" stroke-width="1.6"/>
<line x1="288.40" y1="342.61" x2="294.80" y2="342.61" stroke="#111" stroke-width="1.8"/>
<line x1="302.60" y1="258.12" x2="302.60" y2="243.19" stroke="#111" stroke-width="1.6"/>
<line x1="299.40" y1="243.19" x2="305.80" y2="243.19" stroke="#111" stroke-width="1.8"/>
<rect x="325.10" y="292.20" width="11.00" height="20.77" fill="#92d050"/>
<rect x="336.10" y="255.67" width="11.00" height="36.53" fill="#ffc000"/>
<line x1="330.60" y1="312.97" x2="330.60" y2="322.54" stroke="#111" stroke-width="1.6"/>
<line x1="327.40" y1="322.54" x2="333.80" y2="322.54" stroke="#111" stroke-width="1.8"/>
<line x1="341.60" y1="255.67" x2="341.60" y2="243.19" stroke="#111" stroke-width="1.6"/>
<line x1="338.40" y1="243.19" x2="344.80" y2="243.19" stroke="#111" stroke-width="1.8"/>
<rect x="364.10" y="292.20" width="11.00" height="36.18" fill="#92d050"/>
<rect x="375.10" y="271.89" width="11.00" height="20.31" fill="#ffc000"/>
<line x1="369.60" y1="328.38" x2="369.60" y2="342.61" stroke="#111" stroke-width="1.6"/>
<line x1="366.40" y1="342.61" x2="372.80" y2="342.61" stroke="#111" stroke-width="1.8"/>
<line x1="380.60" y1="271.89" x2="380.60" y2="261.86" stroke="#111" stroke-width="1.6"/>
<line x1="377.40" y1="261.86" x2="383.80" y2="261.86" stroke="#111" stroke-width="1.8"/>
<rect x="403.10" y="292.20" width="11.00" height="51.70" fill="#92d050"/>
<rect x="414.10" y="273.88" width="11.00" height="18.32" fill="#ffc000"/>
<line x1="408.60" y1="343.90" x2="408.60" y2="359.19" stroke="#111" stroke-width="1.6"/>
<line x1="405.40" y1="359.19" x2="411.80" y2="359.19" stroke="#111" stroke-width="1.8"/>
<line x1="419.60" y1="273.88" x2="419.60" y2="264.19" stroke="#111" stroke-width="1.6"/>
<line x1="416.40" y1="264.19" x2="422.80" y2="264.19" stroke="#111" stroke-width="1.8"/>
<rect x="442.10" y="286.83" width="11.00" height="5.37" fill="#92d050"/>
<rect x="453.10" y="271.89" width="11.00" height="20.31" fill="#ffc000"/>
<line x1="447.60" y1="286.83" x2="447.60" y2="284.38" stroke="#111" stroke-width="1.6"/>
<line x1="444.40" y1="284.38" x2="450.80" y2="284.38" stroke="#111" stroke-width="1.8"/>
<line x1="458.60" y1="271.89" x2="458.60" y2="264.89" stroke="#111" stroke-width="1.6"/>
<line x1="455.40" y1="264.89" x2="461.80" y2="264.89" stroke="#111" stroke-width="1.8"/>
<line x1="277.9" y1="292.20" x2="472.90" y2="292.20" stroke="#4a4a4a" stroke-width="1.2"/>
<line x1="316.90" y1="292.20" x2="316.90" y2="296.70" stroke="#4a4a4a" stroke-width="1"/>
<line x1="355.90" y1="292.20" x2="355.90" y2="296.70" stroke="#4a4a4a" stroke-width="1"/>
<line x1="394.90" y1="292.20" x2="394.90" y2="296.70" stroke="#4a4a4a" stroke-width="1"/>
<line x1="433.90" y1="292.20" x2="433.90" y2="296.70" stroke="#4a4a4a" stroke-width="1"/>
<line x1="472.90" y1="292.20" x2="472.90" y2="296.70" stroke="#4a4a4a" stroke-width="1"/>
<text id="Cl0" x="0" y="0" transform="translate(295.90,372.30) rotate(-47)" text-anchor="middle" dominant-baseline="central" font-family='"Liberation Sans", sans-serif' font-size="16.2" fill="#000">Frzb</text>
<text id="Cl1" x="0" y="0" transform="translate(333.00,372.30) rotate(-47)" text-anchor="middle" dominant-baseline="central" font-family='"Liberation Sans", sans-serif' font-size="16.2" fill="#000">Dact1</text>
<text id="Cl2" x="0" y="0" transform="translate(372.00,371.70) rotate(-47)" text-anchor="middle" dominant-baseline="central" font-family='"Liberation Sans", sans-serif' font-size="16.2" fill="#000">Fzd7</text>
<text id="Cl3" x="0" y="0" transform="translate(410.30,372.30) rotate(-47)" text-anchor="middle" dominant-baseline="central" font-family='"Liberation Sans", sans-serif' font-size="16.2" fill="#000">Wnt5a</text>
<text id="Cl4" x="0" y="0" transform="translate(454.60,372.30) rotate(-47)" text-anchor="middle" dominant-baseline="central" font-family='"Liberation Sans", sans-serif' font-size="16.2" fill="#000">Lef1</text>
<text id="Cyt" x="0" y="0" transform="translate(233.8,301.0) rotate(-90)" text-anchor="middle" textLength="134.0" lengthAdjust="spacingAndGlyphs" font-family='"Liberation Sans", sans-serif' font-weight="bold" font-size="14.8" fill="#000">Log2fold change</text>
<text id="CL" x="209.5" y="225.0" font-family='"Liberation Sans", sans-serif' font-weight="bold" font-size="18.2" fill="#000">C</text>
<line x1="275.1" y1="423.60" x2="275.1" y2="584.60" stroke="#4a4a4a" stroke-width="1"/>
<line x1="270.6" y1="584.60" x2="275.1" y2="584.60" stroke="#4a4a4a" stroke-width="1"/>
<text x="259.8" y="591.20" text-anchor="end" font-family='"Liberation Sans", sans-serif' font-size="16.5" fill="#000">-15</text>
<line x1="270.6" y1="552.40" x2="275.1" y2="552.40" stroke="#4a4a4a" stroke-width="1"/>
<text x="259.8" y="559.00" text-anchor="end" font-family='"Liberation Sans", sans-serif' font-size="16.5" fill="#000">-10</text>
<line x1="270.6" y1="520.20" x2="275.1" y2="520.20" stroke="#4a4a4a" stroke-width="1"/>
<text x="259.8" y="526.80" text-anchor="end" font-family='"Liberation Sans", sans-serif' font-size="16.5" fill="#000">-5</text>
<line x1="270.6" y1="488.00" x2="275.1" y2="488.00" stroke="#4a4a4a" stroke-width="1"/>
<text x="259.8" y="494.60" text-anchor="end" font-family='"Liberation Sans", sans-serif' font-size="16.5" fill="#000">0</text>
<line x1="270.6" y1="455.80" x2="275.1" y2="455.80" stroke="#4a4a4a" stroke-width="1"/>
<text x="259.8" y="462.40" text-anchor="end" font-family='"Liberation Sans", sans-serif' font-size="16.5" fill="#000">5</text>
<line x1="270.6" y1="423.60" x2="275.1" y2="423.60" stroke="#4a4a4a" stroke-width="1"/>
<text x="259.8" y="430.20" text-anchor="end" font-family='"Liberation Sans", sans-serif' font-size="16.5" fill="#000">10</text>
<rect x="280.90" y="466.10" width="8.20" height="21.90" fill="#92d050"/>
<rect x="289.10" y="485.75" width="8.20" height="2.25" fill="#ffc000"/>
<line x1="285.00" y1="466.10" x2="285.00" y2="453.87" stroke="#111" stroke-width="1.6"/>
<line x1="281.80" y1="453.87" x2="288.20" y2="453.87" stroke="#111" stroke-width="1.8"/>
<line x1="293.20" y1="485.75" x2="293.20" y2="485.75" stroke="#111" stroke-width="1.6"/>
<line x1="290.00" y1="485.75" x2="296.40" y2="485.75" stroke="#111" stroke-width="1.8"/>
<rect x="309.30" y="456.19" width="8.20" height="31.81" fill="#92d050"/>
<rect x="317.50" y="488.00" width="8.20" height="29.43" fill="#ffc000"/>
<line x1="313.40" y1="456.19" x2="313.40" y2="438.41" stroke="#111" stroke-width="1.6"/>
<line x1="310.20" y1="438.41" x2="316.60" y2="438.41" stroke="#111" stroke-width="1.8"/>
<line x1="321.60" y1="517.43" x2="321.60" y2="531.15" stroke="#111" stroke-width="1.6"/>
<line x1="318.40" y1="531.15" x2="324.80" y2="531.15" stroke="#111" stroke-width="1.8"/>
<rect x="337.70" y="465.46" width="8.20" height="22.54" fill="#92d050"/>
<rect x="345.90" y="488.00" width="8.20" height="62.92" fill="#ffc000"/>
<line x1="341.80" y1="465.46" x2="341.80" y2="454.51" stroke="#111" stroke-width="1.6"/>
<line x1="338.60" y1="454.51" x2="345.00" y2="454.51" stroke="#111" stroke-width="1.8"/>
<line x1="350.00" y1="550.92" x2="350.00" y2="569.14" stroke="#111" stroke-width="1.6"/>
<line x1="346.80" y1="569.14" x2="353.20" y2="569.14" stroke="#111" stroke-width="1.8"/>
<rect x="366.10" y="458.50" width="8.20" height="29.50" fill="#92d050"/>
<rect x="374.30" y="488.00" width="8.20" height="30.01" fill="#ffc000"/>
<line x1="370.20" y1="458.50" x2="370.20" y2="439.31" stroke="#111" stroke-width="1.6"/>
<line x1="367.00" y1="439.31" x2="373.40" y2="439.31" stroke="#111" stroke-width="1.8"/>
<line x1="378.40" y1="518.01" x2="378.40" y2="532.89" stroke="#111" stroke-width="1.6"/>
<line x1="375.20" y1="532.89" x2="381.60" y2="532.89" stroke="#111" stroke-width="1.8"/>
<rect x="394.50" y="474.03" width="8.20" height="13.97" fill="#92d050"/>
<rect x="402.70" y="488.00" width="8.20" height="45.60" fill="#ffc000"/>
<line x1="398.60" y1="474.03" x2="398.60" y2="464.30" stroke="#111" stroke-width="1.6"/>
<line x1="395.40" y1="464.30" x2="401.80" y2="464.30" stroke="#111" stroke-width="1.8"/>
<line x1="406.80" y1="533.60" x2="406.80" y2="556.59" stroke="#111" stroke-width="1.6"/>
<line x1="403.60" y1="556.59" x2="410.00" y2="556.59" stroke="#111" stroke-width="1.8"/>
<rect x="422.90" y="482.01" width="8.20" height="5.99" fill="#92d050"/>
<rect x="431.10" y="488.00" width="8.20" height="13.72" fill="#ffc000"/>
<line x1="427.00" y1="482.01" x2="427.00" y2="478.40" stroke="#111" stroke-width="1.6"/>
<line x1="423.80" y1="478.40" x2="430.20" y2="478.40" stroke="#111" stroke-width="1.8"/>
<line x1="435.20" y1="501.72" x2="435.20" y2="513.50" stroke="#111" stroke-width="1.6"/>
<line x1="432.00" y1="513.50" x2="438.40" y2="513.50" stroke="#111" stroke-width="1.8"/>
<rect x="451.30" y="476.28" width="8.20" height="11.72" fill="#92d050"/>
<rect x="459.50" y="488.00" width="8.20" height="33.29" fill="#ffc000"/>
<line x1="455.40" y1="476.28" x2="455.40" y2="470.48" stroke="#111" stroke-width="1.6"/>
<line x1="452.20" y1="470.48" x2="458.60" y2="470.48" stroke="#111" stroke-width="1.8"/>
<line x1="463.60" y1="521.29" x2="463.60" y2="543.38" stroke="#111" stroke-width="1.6"/>
<line x1="460.40" y1="543.38" x2="466.80" y2="543.38" stroke="#111" stroke-width="1.8"/>
<rect x="479.70" y="477.70" width="8.20" height="10.30" fill="#92d050"/>
<rect x="487.90" y="488.00" width="8.20" height="25.50" fill="#ffc000"/>
<line x1="483.80" y1="477.70" x2="483.80" y2="471.26" stroke="#111" stroke-width="1.6"/>
<line x1="480.60" y1="471.26" x2="487.00" y2="471.26" stroke="#111" stroke-width="1.8"/>
<line x1="492.00" y1="513.50" x2="492.00" y2="526.00" stroke="#111" stroke-width="1.6"/>
<line x1="488.80" y1="526.00" x2="495.20" y2="526.00" stroke="#111" stroke-width="1.8"/>
<line x1="275.1" y1="488.00" x2="502.30" y2="488.00" stroke="#4a4a4a" stroke-width="1.2"/>
<line x1="303.50" y1="488.00" x2="303.50" y2="492.50" stroke="#4a4a4a" stroke-width="1"/>
<line x1="331.90" y1="488.00" x2="331.90" y2="492.50" stroke="#4a4a4a" stroke-width="1"/>
<line x1="360.30" y1="488.00" x2="360.30" y2="492.50" stroke="#4a4a4a" stroke-width="1"/>
<line x1="388.70" y1="488.00" x2="388.70" y2="492.50" stroke="#4a4a4a" stroke-width="1"/>
<line x1="417.10" y1="488.00" x2="417.10" y2="492.50" stroke="#4a4a4a" stroke-width="1"/>
<line x1="445.50" y1="488.00" x2="445.50" y2="492.50" stroke="#4a4a4a" stroke-width="1"/>
<line x1="473.90" y1="488.00" x2="473.90" y2="492.50" stroke="#4a4a4a" stroke-width="1"/>
<line x1="502.30" y1="488.00" x2="502.30" y2="492.50" stroke="#4a4a4a" stroke-width="1"/>
<text id="Dl0" x="0" y="0" transform="translate(288.50,570.40) rotate(-47)" text-anchor="middle" dominant-baseline="central" font-family='"Liberation Sans", sans-serif' font-size="15.4" fill="#000">Mef2c</text>
<text id="Dl1" x="0" y="0" transform="translate(315.30,569.30) rotate(-47)" text-anchor="middle" dominant-baseline="central" font-family='"Liberation Sans", sans-serif' font-size="15.4" fill="#000">Itga2</text>
<text id="Dl2" x="0" y="0" transform="translate(337.30,571.30) rotate(-47)" text-anchor="middle" dominant-baseline="central" font-family='"Liberation Sans", sans-serif' font-size="15.4" fill="#000">Tek</text>
<text id="Dl3" x="0" y="0" transform="translate(370.70,569.90) rotate(-47)" text-anchor="middle" dominant-baseline="central" font-family='"Liberation Sans", sans-serif' font-size="15.4" fill="#000">Edn1</text>
<text id="Dl4" x="0" y="0" transform="translate(401.00,570.00) rotate(-47)" text-anchor="middle" dominant-baseline="central" font-family='"Liberation Sans", sans-serif' font-size="15.4" fill="#000">Icam2</text>
<text id="Dl5" x="0" y="0" transform="translate(429.40,570.60) rotate(-47)" text-anchor="middle" dominant-baseline="central" font-family='"Liberation Sans", sans-serif' font-size="15.4" fill="#000">Flt1</text>
<text id="Dl6" x="0" y="0" transform="translate(455.60,569.40) rotate(-47)" text-anchor="middle" dominant-baseline="central" font-family='"Liberation Sans", sans-serif' font-size="15.4" fill="#000">Pecam1</text>
<text id="Dl7" x="0" y="0" transform="translate(485.60,570.00) rotate(-47)" text-anchor="middle" dominant-baseline="central" font-family='"Liberation Sans", sans-serif' font-size="15.4" fill="#000">Ednrb</text>
<text id="Dyt" x="0" y="0" transform="translate(223.6,506.2) rotate(-90)" text-anchor="middle" textLength="122.5" lengthAdjust="spacingAndGlyphs" font-family='"Liberation Sans", sans-serif' font-weight="bold" font-size="15" fill="#000">Log2fold change</text>
<text id="DL" x="209.3" y="412.8" font-family='"Liberation Sans", sans-serif' font-weight="bold" font-size="18.2" fill="#000">D</text>
<line x1="271.6" y1="614.40" x2="271.6" y2="775.90" stroke="#4a4a4a" stroke-width="1"/>
<line x1="267.1" y1="775.90" x2="271.6" y2="775.90" stroke="#4a4a4a" stroke-width="1"/>
<text x="257.8" y="782.30" text-anchor="end" font-family='"Liberation Sans", sans-serif' font-size="16.5" fill="#000">-15</text>
<line x1="267.1" y1="743.60" x2="271.6" y2="743.60" stroke="#4a4a4a" stroke-width="1"/>
<text x="257.8" y="750.00" text-anchor="end" font-family='"Liberation Sans", sans-serif' font-size="16.5" fill="#000">-10</text>
<line x1="267.1" y1="711.30" x2="271.6" y2="711.30" stroke="#4a4a4a" stroke-width="1"/>
<text x="257.8" y="717.70" text-anchor="end" font-family='"Liberation Sans", sans-serif' font-size="16.5" fill="#000">-5</text>
<line x1="267.1" y1="679.00" x2="271.6" y2="679.00" stroke="#4a4a4a" stroke-width="1"/>
<text x="257.8" y="685.40" text-anchor="end" font-family='"Liberation Sans", sans-serif' font-size="16.5" fill="#000">0</text>
<line x1="267.1" y1="646.70" x2="271.6" y2="646.70" stroke="#4a4a4a" stroke-width="1"/>
<text x="257.8" y="653.10" text-anchor="end" font-family='"Liberation Sans", sans-serif' font-size="16.5" fill="#000">5</text>
<line x1="267.1" y1="614.40" x2="271.6" y2="614.40" stroke="#4a4a4a" stroke-width="1"/>
<text x="257.8" y="620.80" text-anchor="end" font-family='"Liberation Sans", sans-serif' font-size="16.5" fill="#000">10</text>
<rect x="278.85" y="668.79" width="9.10" height="10.21" fill="#92d050"/>
<rect x="287.95" y="679.00" width="9.10" height="31.91" fill="#ffc000"/>
<line x1="283.40" y1="668.79" x2="283.40" y2="662.85" stroke="#111" stroke-width="1.6"/>
<line x1="280.20" y1="662.85" x2="286.60" y2="662.85" stroke="#111" stroke-width="1.8"/>
<line x1="292.50" y1="710.91" x2="292.50" y2="727.77" stroke="#111" stroke-width="1.6"/>
<line x1="289.30" y1="727.77" x2="295.70" y2="727.77" stroke="#111" stroke-width="1.8"/>
<rect x="310.65" y="661.88" width="9.10" height="17.12" fill="#92d050"/>
<rect x="319.75" y="679.00" width="9.10" height="21.90" fill="#ffc000"/>
<line x1="315.20" y1="661.88" x2="315.20" y2="652.00" stroke="#111" stroke-width="1.6"/>
<line x1="312.00" y1="652.00" x2="318.40" y2="652.00" stroke="#111" stroke-width="1.8"/>
<line x1="324.30" y1="700.90" x2="324.30" y2="712.72" stroke="#111" stroke-width="1.6"/>
<line x1="321.10" y1="712.72" x2="327.50" y2="712.72" stroke="#111" stroke-width="1.8"/>
<rect x="342.45" y="658.97" width="9.10" height="20.03" fill="#92d050"/>
<rect x="351.55" y="679.00" width="9.10" height="28.42" fill="#ffc000"/>
<line x1="347.00" y1="658.97" x2="347.00" y2="647.35" stroke="#111" stroke-width="1.6"/>
<line x1="343.80" y1="647.35" x2="350.20" y2="647.35" stroke="#111" stroke-width="1.8"/>
<line x1="356.10" y1="707.42" x2="356.10" y2="724.74" stroke="#111" stroke-width="1.6"/>
<line x1="352.90" y1="724.74" x2="359.30" y2="724.74" stroke="#111" stroke-width="1.8"/>
<rect x="374.25" y="664.14" width="9.10" height="14.86" fill="#92d050"/>
<rect x="383.35" y="679.00" width="9.10" height="59.04" fill="#ffc000"/>
<line x1="378.80" y1="664.14" x2="378.80" y2="652.00" stroke="#111" stroke-width="1.6"/>
<line x1="375.60" y1="652.00" x2="382.00" y2="652.00" stroke="#111" stroke-width="1.8"/>
<line x1="387.90" y1="738.04" x2="387.90" y2="753.29" stroke="#111" stroke-width="1.6"/>
<line x1="384.70" y1="753.29" x2="391.10" y2="753.29" stroke="#111" stroke-width="1.8"/>
<rect x="406.05" y="653.81" width="9.10" height="25.19" fill="#92d050"/>
<rect x="415.15" y="679.00" width="9.10" height="21.51" fill="#ffc000"/>
<line x1="410.60" y1="653.81" x2="410.60" y2="641.14" stroke="#111" stroke-width="1.6"/>
<line x1="407.40" y1="641.14" x2="413.80" y2="641.14" stroke="#111" stroke-width="1.8"/>
<line x1="419.70" y1="700.51" x2="419.70" y2="711.49" stroke="#111" stroke-width="1.6"/>
<line x1="416.50" y1="711.49" x2="422.90" y2="711.49" stroke="#111" stroke-width="1.8"/>
<rect x="437.85" y="662.91" width="9.10" height="16.09" fill="#92d050"/>
<rect x="446.95" y="679.00" width="9.10" height="26.81" fill="#ffc000"/>
<line x1="442.40" y1="662.91" x2="442.40" y2="654.65" stroke="#111" stroke-width="1.6"/>
<line x1="439.20" y1="654.65" x2="445.60" y2="654.65" stroke="#111" stroke-width="1.8"/>
<line x1="451.50" y1="705.81" x2="451.50" y2="720.80" stroke="#111" stroke-width="1.6"/>
<line x1="448.30" y1="720.80" x2="454.70" y2="720.80" stroke="#111" stroke-width="1.8"/>
<rect x="469.65" y="674.99" width="9.10" height="4.01" fill="#92d050"/>
<rect x="478.75" y="679.00" width="9.10" height="31.20" fill="#ffc000"/>
<line x1="474.20" y1="674.99" x2="474.20" y2="672.67" stroke="#111" stroke-width="1.6"/>
<line x1="471.00" y1="672.67" x2="477.40" y2="672.67" stroke="#111" stroke-width="1.8"/>
<line x1="483.30" y1="710.20" x2="483.30" y2="725.90" stroke="#111" stroke-width="1.6"/>
<line x1="480.10" y1="725.90" x2="486.50" y2="725.90" stroke="#111" stroke-width="1.8"/>
<line x1="271.6" y1="679.00" x2="494.20" y2="679.00" stroke="#4a4a4a" stroke-width="1.2"/>
<line x1="303.40" y1="679.00" x2="303.40" y2="683.50" stroke="#4a4a4a" stroke-width="1"/>
<line x1="335.20" y1="679.00" x2="335.20" y2="683.50" stroke="#4a4a4a" stroke-width="1"/>
<line x1="367.00" y1="679.00" x2="367.00" y2="683.50" stroke="#4a4a4a" stroke-width="1"/>
<line x1="398.80" y1="679.00" x2="398.80" y2="683.50" stroke="#4a4a4a" stroke-width="1"/>
<line x1="430.60" y1="679.00" x2="430.60" y2="683.50" stroke="#4a4a4a" stroke-width="1"/>
<line x1="462.40" y1="679.00" x2="462.40" y2="683.50" stroke="#4a4a4a" stroke-width="1"/>
<line x1="494.20" y1="679.00" x2="494.20" y2="683.50" stroke="#4a4a4a" stroke-width="1"/>
<text id="El0" x="0" y="0" transform="translate(288.10,766.80) rotate(-47)" text-anchor="middle" dominant-baseline="central" font-family='"Liberation Sans", sans-serif' font-size="15.4" fill="#000">Lmo2</text>
<text id="El1" x="0" y="0" transform="translate(318.70,764.50) rotate(-47)" text-anchor="middle" dominant-baseline="central" font-family='"Liberation Sans", sans-serif' font-size="15.4" fill="#000">CD38</text>
<text id="El2" x="0" y="0" transform="translate(348.10,765.00) rotate(-47)" text-anchor="middle" dominant-baseline="central" font-family='"Liberation Sans", sans-serif' font-size="15.4" fill="#000">Fli1</text>
<text id="El3" x="0" y="0" transform="translate(385.00,765.00) rotate(-47)" text-anchor="middle" dominant-baseline="central" font-family='"Liberation Sans", sans-serif' font-size="15.4" fill="#000">Erg</text>
<text id="El4" x="0" y="0" transform="translate(413.10,765.00) rotate(-47)" text-anchor="middle" dominant-baseline="central" font-family='"Liberation Sans", sans-serif' font-size="15.4" fill="#000">CD34</text>
<text id="El5" x="0" y="0" transform="translate(445.00,763.75) rotate(-47)" text-anchor="middle" dominant-baseline="central" font-family='"Liberation Sans", sans-serif' font-size="15.4" fill="#000">Elk3</text>
<text id="El6" x="0" y="0" transform="translate(477.50,766.25) rotate(-47)" text-anchor="middle" dominant-baseline="central" font-family='"Liberation Sans", sans-serif' font-size="15.4" fill="#000">Hhex</text>
<text id="Eyt" x="0" y="0" transform="translate(223.8,691.0) rotate(-90)" text-anchor="middle" textLength="122.5" lengthAdjust="spacingAndGlyphs" font-family='"Liberation Sans", sans-serif' font-weight="bold" font-size="15" fill="#000">Log2fold change</text>
<text id="EL" x="207.5" y="611.5" font-family='"Liberation Sans", sans-serif' font-weight="bold" font-size="18.2" fill="#000">E</text>
<rect x="245.4" y="812.1" width="22.1" height="22.4" fill="#92d050"/>
<text x="271.8" y="829.6" textLength="86.5" lengthAdjust="spacingAndGlyphs" font-family='"Liberation Sans", sans-serif' font-size="15.6" fill="#000">+DOX/-DOX</text>
<rect x="381.5" y="812.1" width="22.5" height="22" fill="#ffc000"/>
<text x="407.2" y="830.3" font-family='"Liberation Sans", sans-serif' font-size="15.6" fill="#000">Er71</text>
<text x="441.3" y="824.2" textLength="14" lengthAdjust="spacingAndGlyphs" font-family='"Liberation Sans", sans-serif' font-size="12" fill="#000">-/-</text>
<text x="455.6" y="830.3" font-family='"Liberation Sans", sans-serif' font-size="15.6" fill="#000">/Er71</text>
<text x="496.8" y="824.2" textLength="22" lengthAdjust="spacingAndGlyphs" font-family='"Liberation Sans", sans-serif' font-size="12.5" fill="#000">+/+</text>
</svg>
</body></html>
